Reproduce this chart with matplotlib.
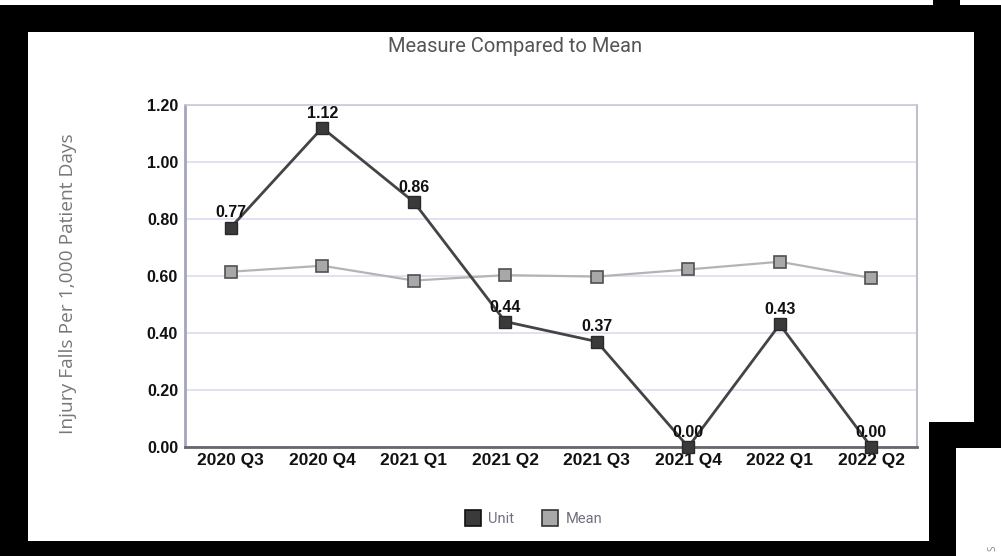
import matplotlib
matplotlib.use("Agg")
import matplotlib.pyplot as plt
from matplotlib.patches import Rectangle
from matplotlib.lines import Line2D

categories = ["2020 Q3", "2020 Q4", "2021 Q1", "2021 Q2", "2021 Q3", "2021 Q4", "2022 Q1", "2022 Q2"]
unit_values = [0.77, 1.12, 0.86, 0.44, 0.37, 0.00, 0.43, 0.00]
mean_values = [0.615, 0.636, 0.584, 0.603, 0.598, 0.623, 0.650, 0.593]
y_ticks = [0.0, 0.2, 0.4, 0.6, 0.8, 1.0, 1.2]

W, H = 1001, 556
fig = plt.figure(figsize=(W / 100, H / 100), dpi=100)
fig.patch.set_facecolor("white")


def px_rect(x0, y0, x1, y1, color, z):
    r = Rectangle((x0 / W, 1 - y1 / H), (x1 - x0) / W, (y1 - y0) / H,
                  transform=fig.transFigure, facecolor=color, edgecolor="none", zorder=z)
    fig.add_artist(r)


# screenshot frame
px_rect(0, 5, W, H, "black", -20)
px_rect(933, 0, 960, 5, "black", -20)
px_rect(956, 448, W, H, "white", -19)
px_rect(28, 32, 974, 422, "white", -19)
px_rect(28, 421, 929, 541, "white", -19)
fig.text(993 / W, 1 - 548 / H, "S", rotation=90, fontsize=7, color="#888888",
         ha="center", va="center", family="Open Sans")

ax = fig.add_axes([185 / W, 1 - 447 / H, (917 - 185) / W, (447 - 105) / H])
ax.set_facecolor("white")
x = list(range(len(categories)))

ax.plot(x, mean_values, color="#b4b4b4", linewidth=1.6, marker="s", markersize=9,
        markerfacecolor="#a8a8a8", markeredgecolor="#505050", markeredgewidth=1.2,
        zorder=3, clip_on=False)
ax.plot(x, unit_values, color="#444444", linewidth=2.0, marker="s", markersize=8.5,
        markerfacecolor="#3a3a3a", markeredgecolor="#2a2a2a", markeredgewidth=1.0,
        zorder=4, clip_on=False)

for xi, v in zip(x, unit_values):
    ax.annotate(f"{v:.2f}", (xi, v), xytext=(0, 10.5), textcoords="offset points",
                ha="center", va="center", fontsize=11.5, fontweight="bold",
                family="Liberation Sans", color="#111111", zorder=5)

ax.set_xlim(-0.5, len(categories) - 0.5)
ax.set_ylim(0, 1.2)
ax.set_yticks(y_ticks)
ax.set_yticklabels([f"{t:.2f}" for t in y_ticks])
ax.set_xticks(x)
ax.set_xticklabels(categories)
ax.tick_params(axis="both", length=0)
ax.tick_params(axis="y", pad=5)
ax.tick_params(axis="x", pad=4)
for lbl in ax.get_yticklabels():
    lbl.set_fontsize(11.5)
    lbl.set_fontweight("bold")
    lbl.set_family("Liberation Sans")
    lbl.set_color("#111111")
for lbl in ax.get_xticklabels():
    lbl.set_fontsize(12.5)
    lbl.set_fontweight("bold")
    lbl.set_family("Liberation Sans")
    lbl.set_color("#111111")

ax.yaxis.grid(True, color="#dcdcf2", linewidth=1.2)
ax.set_axisbelow(True)
ax.spines["left"].set_color("#a4a4bc")
ax.spines["left"].set_linewidth(2.0)
ax.spines["bottom"].set_color("#666670")
ax.spines["bottom"].set_linewidth(2.0)
ax.spines["top"].set_color("#c8c8dc")
ax.spines["top"].set_linewidth(1.2)
ax.spines["right"].set_color("#c0c0c8")
ax.spines["right"].set_linewidth(1.5)

fig.text(515 / W, 1 - 46 / H, "Measure Compared to Mean", ha="center", va="center",
         fontsize=14.5, color="#555555", family="Roboto")
fig.text(68 / W, 1 - 284 / H, "Injury Falls Per 1,000 Patient Days", ha="center", va="center",
         rotation=90, fontsize=13.8, color="#777777", family="Open Sans")

handles = [
    Line2D([], [], linestyle="none", marker="s", markersize=11,
           markerfacecolor="#3a3a3a", markeredgecolor="#111111", markeredgewidth=1.2),
    Line2D([], [], linestyle="none", marker="s", markersize=11,
           markerfacecolor="#a8a8a8", markeredgecolor="#333333", markeredgewidth=1.2),
]
leg = fig.legend(handles, ["Unit", "Mean"], loc="center", ncol=2,
                 bbox_to_anchor=(534 / W, 1 - 519 / H), frameon=False,
                 handlelength=1.0, handletextpad=0.55, columnspacing=2.0,
                 prop={"family": "Roboto", "size": 10.5})
for t in leg.get_texts():
    t.set_color("#707080")

fig.savefig("out.png", dpi=100, facecolor="white")
